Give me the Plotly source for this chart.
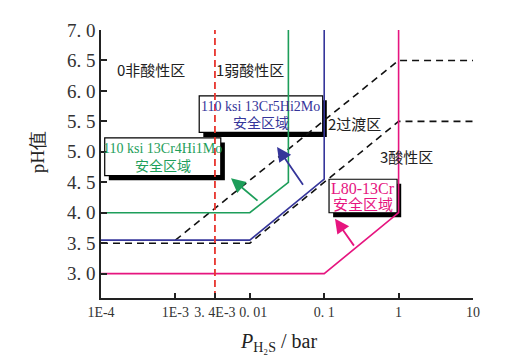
import plotly.graph_objects as go

# ---- data ----
green_x = [1e-4, 0.01, 0.033, 0.033]
green_y = [4.0, 4.0, 4.5, 7.05]
blue_x = [1e-4, 0.01, 0.1, 0.1]
blue_y = [3.55, 3.55, 4.55, 7.0]
mag_x = [1e-4, 0.1, 1, 1]
mag_y = [3.0, 3.0, 4.0, 7.0]
dash_low_x = [1e-4, 0.01, 1, 10]
dash_low_y = [3.5, 3.5, 5.5, 5.5]
dash_up_x = [1e-3, 1, 10]
dash_up_y = [3.55, 6.5, 6.5]
red_x = [3.4e-3, 3.4e-3]
red_y = [2.6, 7.0]

x_tickvals = [1e-4, 1e-3, 3.4e-3, 0.01, 0.1, 1, 10]
x_ticktext = ["1E-4", "1E-3", "3. 4E-3", "\u00a0\u00a00. 01", "0. 1", "1", "10"]
y_tickvals = [3.0, 3.5, 4.0, 4.5, 5.0, 5.5, 6.0, 6.5, 7.0]
y_ticktext = ["3. 0", "3. 5", "4. 0", "4. 5", "5. 0", "5. 5", "6. 0", "6. 5", "7. 0"]

XLOG = [-4, 1]
YR = [2.6, 7.0]

GREEN = "#1d9e5a"
BLUE = "#35359a"
MAG = "#e6157f"
RED = "#e8352e"

SERIF = "Liberation Serif"
CJK = "Noto Sans CJK SC"

def px_x(lg):
    return (lg - XLOG[0]) / (XLOG[1] - XLOG[0])

def px_y(v):
    return (v - YR[0]) / (YR[1] - YR[0])

fig = go.Figure()
def line(x, y, color, dash="solid", width=1.6):
    fig.add_trace(go.Scatter(x=x, y=y, mode="lines", showlegend=False, hoverinfo="skip",
                             line=dict(color=color, width=width, dash=dash), cliponaxis=False))

line(dash_up_x, dash_up_y, "#111111", "7px,5px", 1.6)
line(dash_low_x, dash_low_y, "#111111", "7px,5px", 1.6)
line(green_x, green_y, GREEN)
line(blue_x, blue_y, BLUE)
line(mag_x, mag_y, MAG)
line(red_x, red_y, RED, "7px,4px", 1.8)

# boxes (log10 x, pH y)
boxes = [
    dict(x0=-3.95, x1=-2.39, y0=4.61, y1=5.23, l1="110 ksi 13Cr4Hi1Mo", l2="安全区域", c=GREEN, s1=14, s2=14),
    dict(x0=-2.68, x1=-1.02, y0=5.32, y1=5.92, l1="110 ksi 13Cr5Hi2Mo", l2="安全区域", c=BLUE, s1=14, s2=14),
    dict(x0=-0.935, x1=-0.02, y0=4.0, y1=4.55, l1="L80-13Cr", l2="安全区域", c=MAG, s1=16, s2=15),
]
shapes = []
annotations = []
dx, dy = 0.055, 0.075
for b in boxes:
    shapes.append(dict(type="rect", xref="paper", yref="paper",
                       x0=px_x(b["x0"] + dx), x1=px_x(b["x1"] + dx),
                       y0=px_y(b["y0"] - dy), y1=px_y(b["y1"] - dy), fillcolor="black",
                       line=dict(width=0), layer="below"))
    shapes.append(dict(type="rect", xref="paper", yref="paper",
                       x0=px_x(b["x0"]), x1=px_x(b["x1"]),
                       y0=px_y(b["y0"]), y1=px_y(b["y1"]), fillcolor="white",
                       line=dict(color="black", width=1.2), layer="below"))
    xm = (b["x0"] + b["x1"]) / 2
    h = b["y1"] - b["y0"]
    annotations.append(dict(x=xm, y=b["y1"] - h * 0.28, xref="x", yref="y", text=b["l1"],
                            showarrow=False, font=dict(family=SERIF, size=b["s1"], color=b["c"])))
    annotations.append(dict(x=xm, y=b["y0"] + h * 0.28, xref="x", yref="y", text=b["l2"],
                            showarrow=False, font=dict(family=CJK, size=b["s2"], color=b["c"])))

# arrows: head (x,y), tail (ax,ay)
arrows = [
    (-2.253, 4.565, -1.876, 4.177, GREEN),
    (-1.634, 5.081, -1.271, 4.435, BLUE),
    (-0.855, 3.903, -0.586, 3.435, MAG),
]
for x, y, ax, ay, c in arrows:
    annotations.append(dict(x=x, y=y, ax=ax, ay=ay, xref="x", yref="y", axref="x", ayref="y",
                            text="", showarrow=True, arrowhead=2, arrowsize=1.6,
                            arrowwidth=1.8, arrowcolor=c))

# region labels
regions = [("0非酸性区", -3.33, 6.35), ("1弱酸性区", -2.0, 6.35),
           ("2过渡区", -0.59, 5.46), ("3酸性区", 0.11, 4.93)]
for t, x, y in regions:
    annotations.append(dict(x=x, y=y, xref="x", yref="y", text=t, showarrow=False,
                            font=dict(family=CJK, size=15, color="#222222")))

# axis titles
annotations.append(dict(x=-0.172, y=0.544, xref="paper", yref="paper", text="pH值",
                        textangle=-90, showarrow=False, xanchor="center", yanchor="middle",
                        font=dict(family=SERIF, size=19, color="#222")))
annotations.append(dict(x=0.476, y=-0.165, xref="paper", yref="paper",
                        text="<i>P</i><sub>H₂S</sub> / bar", showarrow=False,
                        xanchor="center", yanchor="middle",
                        font=dict(family=SERIF, size=20, color="#222")))

# page body has an 8px default margin -> compensate
OFF = 8
fig.update_layout(
    width=507, height=361,
    margin=dict(l=101 - OFF, r=507 - 473 + OFF, t=26 - OFF, b=361 - 298 + OFF),
    plot_bgcolor="white", paper_bgcolor="white",
    shapes=shapes, annotations=annotations,
    xaxis=dict(type="log", range=XLOG, tickvals=x_tickvals, ticktext=x_ticktext,
               ticks="inside", ticklen=5, tickwidth=1.5, tickcolor="#222", tickangle=0,
               showline=True, linecolor="#222", linewidth=1.5, showgrid=False, zeroline=False,
               tickfont=dict(family=SERIF, size=14, color="#333")),
    yaxis=dict(range=YR, tickvals=y_tickvals, ticktext=y_ticktext,
               ticks="inside", ticklen=6, tickwidth=1.5, tickcolor="#222",
               showline=True, linecolor="#222", linewidth=1.5, showgrid=False, zeroline=False,
               tickfont=dict(family=SERIF, size=19, color="#333")),
)
fig.write_html("out.html")
